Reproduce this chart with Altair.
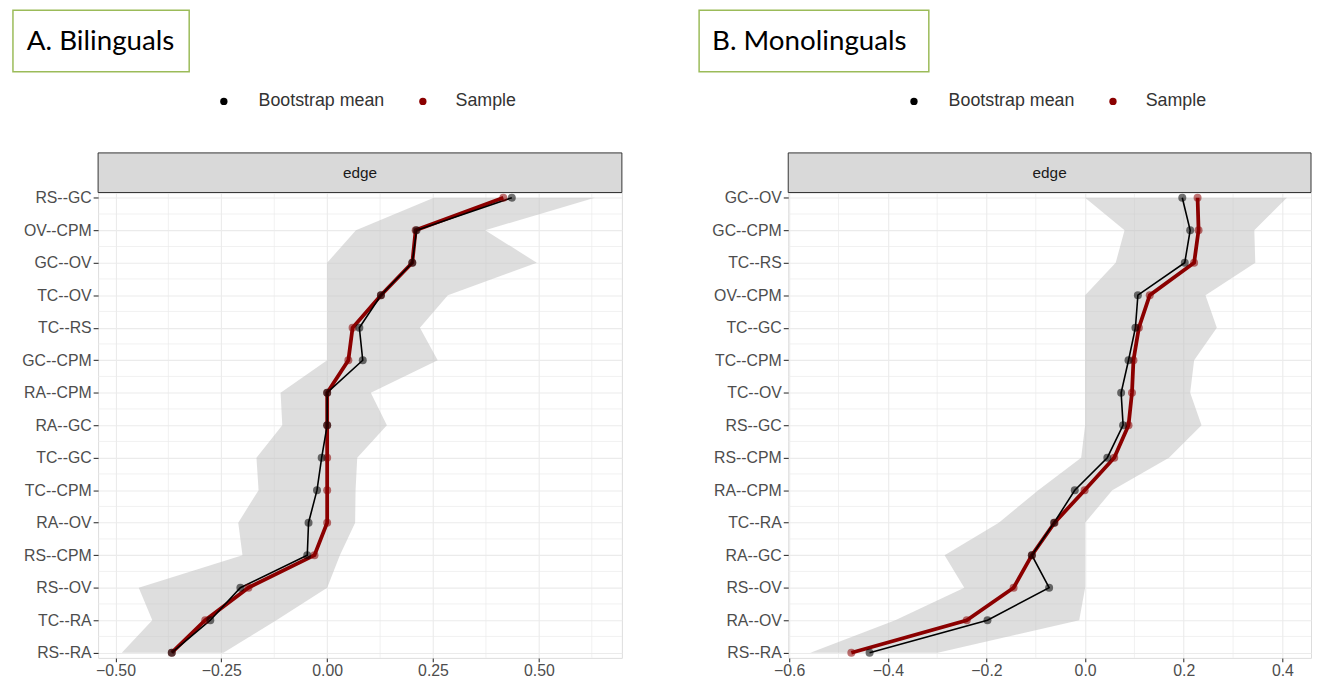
import altair as alt
import pandas as pd

# ---------------- data ----------------
edges_A = ["RS--GC", "OV--CPM", "GC--OV", "TC--OV", "TC--RS", "GC--CPM", "RA--CPM",
           "RA--GC", "TC--GC", "TC--CPM", "RA--OV", "RS--CPM", "RS--OV", "TC--RA", "RS--RA"]
boot_A = [0.436, 0.211, 0.201, 0.127, 0.076, 0.084, 0.0, 0.0, -0.013, -0.024, -0.044,
          -0.047, -0.205, -0.276, -0.367]
sample_A = [0.416, 0.209, 0.201, 0.127, 0.060, 0.050, 0.0, 0.0, 0.0, 0.0, 0.0, -0.030,
            -0.186, -0.288, -0.367]
lower_A = [0.252, 0.068, 0.0, 0.0, 0.0, 0.0, -0.110, -0.106, -0.167, -0.162, -0.210,
           -0.200, -0.445, -0.413, -0.485]
upper_A = [0.632, 0.373, 0.495, 0.285, 0.219, 0.261, 0.103, 0.141, 0.071, 0.067, 0.066,
           0.030, 0.0, -0.120, -0.245]
ticks_A = [-0.5, -0.25, 0.0, 0.25, 0.5]
minor_A = [-0.375, -0.125, 0.125, 0.375, 0.625]

edges_B = ["GC--OV", "GC--CPM", "TC--RS", "OV--CPM", "TC--GC", "TC--CPM", "TC--OV",
           "RS--GC", "RS--CPM", "RA--CPM", "TC--RA", "RA--GC", "RS--OV", "RA--OV", "RS--RA"]
boot_B = [0.197, 0.213, 0.202, 0.107, 0.102, 0.088, 0.073, 0.077, 0.045, -0.021, -0.063,
          -0.108, -0.073, -0.198, -0.437]
sample_B = [0.228, 0.230, 0.221, 0.131, 0.109, 0.098, 0.095, 0.088, 0.059, -0.001, -0.062,
            -0.108, -0.145, -0.240, -0.474]
lower_B = [0.0, 0.080, 0.062, 0.0, 0.0, 0.0, 0.0, 0.0, -0.008, -0.095, -0.175, -0.285,
           -0.245, -0.385, -0.557]
upper_B = [0.409, 0.343, 0.345, 0.244, 0.267, 0.221, 0.213, 0.236, 0.170, 0.055, 0.0,
           0.0, 0.0, -0.012, -0.299]
ticks_B = [-0.6, -0.4, -0.2, 0.0, 0.2, 0.4]
minor_B = [-0.5, -0.3, -0.1, 0.1, 0.3]

legend_labels = ["Bootstrap mean", "Sample"]
strip_label = "edge"

FONT = "Liberation Sans"
RED = "#8b0000"
GRID = "#ebebeb"
PLOT_H = 470


def one():
    return pd.DataFrame({"a": [0]})


def panel(title, box, edges, boot, sample, lower, upper, ticks, minor, domain, width, fmt):
    n = len(edges)
    df = pd.DataFrame({"idx": list(range(n)), "edge": edges, "boot": boot,
                       "sample": sample, "lower": lower, "upper": upper})
    label_expr = "[" + ",".join("'%s'" % e for e in edges) + "][datum.value]"
    ys = alt.Scale(domain=[-0.16, n - 1 + 0.16], reverse=True, nice=False, zero=False)
    xs = alt.Scale(domain=domain, nice=False, zero=False)
    yax = alt.Axis(values=list(range(n)), labelExpr=label_expr, title=None, grid=True,
                   gridColor=GRID, gridWidth=1.1, domain=False, tickSize=5,
                   tickColor="#333333", tickWidth=1.1, labelFont=FONT, labelFontSize=16,
                   labelColor="#4d4d4d", labelPadding=2)
    xax = alt.Axis(values=ticks, format=fmt, title=None, grid=True, gridColor=GRID,
                   gridWidth=1.1, domain=False, tickSize=4, tickColor="#333333",
                   tickWidth=1.1, labelFont=FONT, labelFontSize=16, labelColor="#4d4d4d",
                   labelPadding=1, labelFlush=False)

    def X(f):
        return alt.X(f, type="quantitative", scale=xs, axis=xax)

    def Y(f):
        return alt.Y(f, type="quantitative", scale=ys, axis=yax)

    minor_x = alt.Chart(pd.DataFrame({"v": minor})).mark_rule(
        color=GRID, strokeWidth=0.7).encode(x=X("v"))
    minor_y = alt.Chart(pd.DataFrame({"v": [i + 0.5 for i in range(n - 1)]})).mark_rule(
        color=GRID, strokeWidth=0.7).encode(y=Y("v"))

    base = alt.Chart(df)
    ribbon = base.mark_area(orient="horizontal", fill="#bdbdbd", fillOpacity=0.5).encode(
        y=Y("idx"), x=X("lower"), x2=alt.X2("upper"))
    red_line = base.mark_line(color=RED, strokeWidth=3.8).encode(
        y=Y("idx"), x=X("sample"), order="idx")
    blk_line = base.mark_line(color="black", strokeWidth=1.6).encode(
        y=Y("idx"), x=X("boot"), order="idx")
    red_pts = base.mark_circle(color=RED, opacity=0.55, size=65).encode(
        y=Y("idx"), x=X("sample"))
    blk_pts = base.mark_circle(color="black", opacity=0.55, size=65).encode(
        y=Y("idx"), x=X("boot"))

    strip = alt.Chart(one()).mark_rect(fill="#d9d9d9", stroke="#333333",
                                       strokeWidth=1).encode(
        x=alt.value(0), x2=alt.value(width), y=alt.value(-40), y2=alt.value(0))
    strip_txt = alt.Chart(one()).mark_text(font=FONT, fontSize=15.5, color="#1a1a1a",
                                           baseline="middle", align="center").encode(
        x=alt.value(width / 2), y=alt.value(-20), text=alt.value(strip_label))

    tbox = alt.Chart(one()).mark_rect(fill="white", stroke="#9bbb59",
                                      strokeWidth=1.5).encode(
        x=alt.value(box[0]), x2=alt.value(box[1]), y=alt.value(-184), y2=alt.value(-122))
    ttxt = alt.Chart(one()).mark_text(font="Lato", fontSize=28, color="black",
                                      baseline="middle", align="left").encode(
        x=alt.value(box[2]), y=alt.value(-152), text=alt.value(title))

    lg_b_pt = alt.Chart(one()).mark_circle(color="black", opacity=1, size=55).encode(
        x=alt.value(127), y=alt.value(-92))
    lg_r_pt = alt.Chart(one()).mark_circle(color=RED, opacity=1, size=55).encode(
        x=alt.value(328), y=alt.value(-92))
    lg_b_tx = alt.Chart(one()).mark_text(font=FONT, fontSize=18, color="#333333",
                                         baseline="middle", align="left").encode(
        x=alt.value(162), y=alt.value(-92), text=alt.value(legend_labels[0]))
    lg_r_tx = alt.Chart(one()).mark_text(font=FONT, fontSize=18, color="#333333",
                                         baseline="middle", align="left").encode(
        x=alt.value(361), y=alt.value(-92), text=alt.value(legend_labels[1]))

    return alt.layer(minor_x, minor_y, ribbon, red_line, blk_line, red_pts, blk_pts,
                     strip, strip_txt, tbox, ttxt, lg_b_pt, lg_r_pt, lg_b_tx,
                     lg_r_tx).properties(width=width, height=PLOT_H)


pA = panel("A. Bilinguals", (-86, 92, -72), edges_A, boot_A, sample_A, lower_A, upper_A,
           ticks_A, minor_A, [-0.541, 0.696], 529, ".2f")
pB = panel("B. Monolinguals", (-90, 142, -77), edges_B, boot_B, sample_B, lower_B, upper_B,
           ticks_B, minor_B, [-0.602, 0.458], 528, ".1f")

chart = alt.hconcat(pA, pB, spacing=75).properties(
    padding={"left": 3, "top": -3, "right": 0, "bottom": 0}
).configure_view(stroke="#4d4d4d", strokeWidth=1.1).configure(
    background="white")

chart.save("out.html", embed_options={"renderer": "svg", "actions": False})
